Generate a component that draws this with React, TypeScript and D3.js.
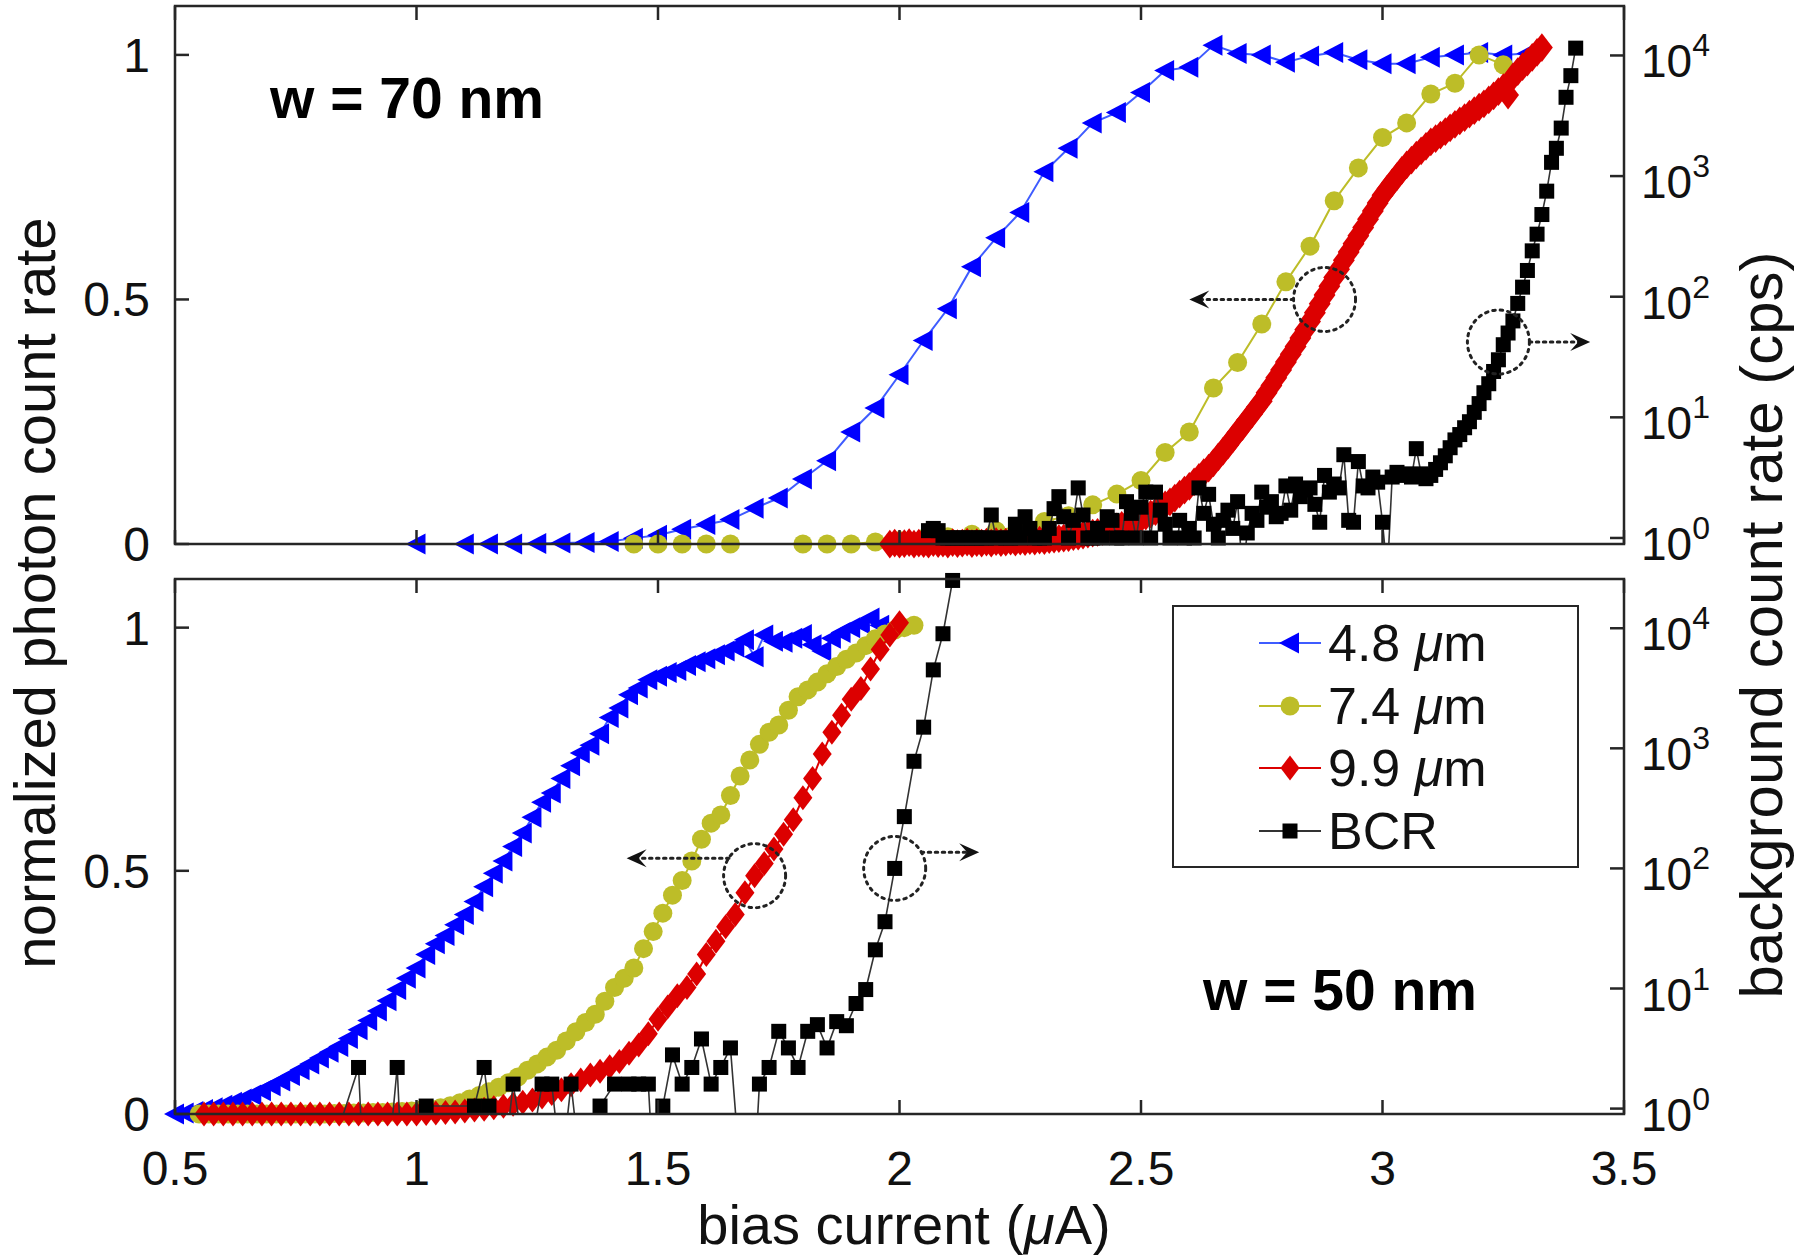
import React from "react";
import * as d3 from "d3";

type P = [number, number];

// ---------- axis ticks ----------
const xTickValues = [0.5, 1, 1.5, 2, 2.5, 3, 3.5];
const xTickLabels = ["0.5", "1", "1.5", "2", "2.5", "3", "3.5"];
const yTickValues = [0, 0.5, 1];
const yTickLabels = ["0", "0.5", "1"];
const logTickExponents = [0, 1, 2, 3, 4];

// ---------- legend ----------
const legendNames = ["4.8", "7.4", "9.9", "BCR"];

// ---------- w = 70 nm (top panel) ----------
const blue70: P[] = [
  [1.0, 0], [1.1, 0], [1.15, 0], [1.2, 0], [1.25, 0.001], [1.3, 0.002], [1.35, 0.003], [1.4, 0.005],
  [1.45, 0.012], [1.5, 0.018], [1.55, 0.03], [1.6, 0.04], [1.65, 0.05], [1.7, 0.073], [1.75, 0.094],
  [1.8, 0.133], [1.85, 0.17], [1.9, 0.229], [1.95, 0.278], [2.0, 0.346], [2.05, 0.416], [2.1, 0.481],
  [2.15, 0.567], [2.2, 0.626], [2.25, 0.678], [2.3, 0.761], [2.35, 0.809], [2.4, 0.861], [2.45, 0.882],
  [2.5, 0.923], [2.55, 0.968], [2.6, 0.975], [2.65, 1.02], [2.7, 1.003], [2.75, 1.0], [2.8, 0.985],
  [2.85, 0.998], [2.9, 1.005], [2.95, 0.99], [3.0, 0.982], [3.05, 0.982], [3.1, 0.995], [3.15, 1.0],
  [3.2, 1.005], [3.25, 1.0], [3.3, 1.003],
];

const yellow70: P[] = [
  [1.45, 0], [1.5, 0], [1.55, 0], [1.6, 0], [1.65, 0], [1.8, 0], [1.85, 0], [1.9, 0], [1.95, 0.004],
  [2.0, 0.007], [2.05, 0.011], [2.1, 0.015], [2.15, 0.02], [2.2, 0.027], [2.25, 0.036], [2.3, 0.046],
  [2.35, 0.058], [2.4, 0.08], [2.45, 0.102], [2.5, 0.13], [2.55, 0.187], [2.6, 0.229], [2.65, 0.319],
  [2.7, 0.371], [2.75, 0.45], [2.8, 0.536], [2.85, 0.609], [2.9, 0.702], [2.95, 0.769], [3.0, 0.831],
  [3.05, 0.861], [3.1, 0.92], [3.15, 0.942], [3.2, 1.0], [3.25, 0.98],
];

const red70: P[] = [
  [1.98, 0.0], [1.99, 0.002], [2.0, 0.0], [2.01, 0.001], [2.02, 0.003], [2.03, 0.0], [2.04, 0.002],
  [2.05, 0.001], [2.06, 0.0], [2.07, 0.003], [2.08, 0.001], [2.09, 0.002], [2.1, 0.0], [2.11, 0.003],
  [2.12, 0.001], [2.13, 0.002], [2.14, 0.004], [2.15, 0.001], [2.16, 0.003], [2.17, 0.002], [2.18, 0.004],
  [2.19, 0.002], [2.2, 0.005], [2.21, 0.003], [2.22, 0.004], [2.23, 0.006], [2.24, 0.004], [2.25, 0.006],
  [2.26, 0.005], [2.27, 0.007], [2.28, 0.006], [2.29, 0.008], [2.3, 0.007], [2.31, 0.009], [2.32, 0.01],
  [2.33, 0.011], [2.34, 0.012], [2.35, 0.013], [2.36, 0.015], [2.37, 0.016], [2.38, 0.018], [2.39, 0.02],
  [2.4, 0.022], [2.41, 0.024], [2.42, 0.026], [2.43, 0.029], [2.44, 0.032], [2.45, 0.035], [2.46, 0.038],
  [2.47, 0.041], [2.48, 0.045], [2.49, 0.048], [2.5, 0.052], [2.51, 0.057], [2.52, 0.061], [2.53, 0.066],
  [2.54, 0.073], [2.55, 0.08], [2.56, 0.086], [2.57, 0.094], [2.58, 0.102], [2.59, 0.11], [2.6, 0.118],
  [2.61, 0.127], [2.62, 0.136], [2.63, 0.146], [2.64, 0.155], [2.65, 0.166], [2.66, 0.178], [2.67, 0.19],
  [2.68, 0.202], [2.69, 0.215], [2.7, 0.228], [2.71, 0.24], [2.72, 0.254], [2.73, 0.266], [2.74, 0.28],
  [2.75, 0.292], [2.76, 0.309], [2.77, 0.324], [2.78, 0.34], [2.79, 0.356], [2.8, 0.372], [2.81, 0.388],
  [2.82, 0.404], [2.83, 0.421], [2.84, 0.438], [2.85, 0.455], [2.86, 0.473], [2.87, 0.491], [2.88, 0.509],
  [2.89, 0.527], [2.9, 0.545], [2.91, 0.562], [2.92, 0.58], [2.93, 0.597], [2.94, 0.614], [2.95, 0.63],
  [2.96, 0.647], [2.97, 0.664], [2.98, 0.681], [2.99, 0.697], [3.0, 0.713], [3.01, 0.726], [3.02, 0.739],
  [3.03, 0.751], [3.04, 0.764], [3.05, 0.775], [3.06, 0.785], [3.07, 0.795], [3.08, 0.804], [3.09, 0.813],
  [3.1, 0.822], [3.11, 0.829], [3.12, 0.836], [3.13, 0.843], [3.14, 0.851], [3.15, 0.858], [3.16, 0.865],
  [3.17, 0.872], [3.18, 0.879], [3.19, 0.886], [3.2, 0.893], [3.21, 0.9], [3.22, 0.908], [3.23, 0.916],
  [3.24, 0.925], [3.25, 0.933], [3.26, 0.918], [3.27, 0.955], [3.28, 0.966], [3.29, 0.976], [3.3, 0.985],
  [3.31, 0.995], [3.32, 1.005], [3.33, 1.015],
];

// background count rate (cps), right log axis
const bcr70: P[] = [
  [2.06, 1.15], [2.07, 1.2], [2.08, 1.15], [2.09, 1], [2.1, 1], [2.11, 1], [2.12, 1], [2.13, 1], [2.14, 1],
  [2.15, 1], [2.16, 1], [2.17, 1], [2.18, 1], [2.19, 1.55], [2.2, 1], [2.21, 0.5], [2.22, 1], [2.23, 1],
  [2.24, 1.3], [2.25, 1], [2.26, 1.5], [2.27, 1.2], [2.28, 1], [2.29, 1], [2.3, 1], [2.31, 1.2], [2.32, 1.75],
  [2.33, 2.2], [2.34, 1.5], [2.35, 1], [2.36, 1.4], [2.37, 2.6], [2.38, 1.55], [2.39, 1], [2.4, 1], [2.41, 1.2],
  [2.42, 1], [2.43, 1.5], [2.44, 1.4], [2.45, 1], [2.46, 1], [2.47, 2], [2.48, 1.6], [2.49, 1], [2.5, 1.8],
  [2.51, 2.4], [2.52, 1], [2.53, 2.4], [2.54, 1.7], [2.55, 1.3], [2.56, 1], [2.57, 0.5], [2.58, 1.4], [2.59, 1],
  [2.6, 1.2], [2.61, 1], [2.62, 2.6], [2.63, 1.6], [2.64, 2.3], [2.65, 1.3], [2.66, 1], [2.67, 1.4], [2.68, 1.7],
  [2.69, 1.2], [2.7, 2], [2.71, 0.5], [2.72, 1.1], [2.73, 1.6], [2.74, 1.4], [2.75, 2.4], [2.76, 1.8], [2.77, 2],
  [2.78, 1.5], [2.79, 1.6], [2.8, 2.7], [2.81, 1.7], [2.82, 2.8], [2.83, 2.2], [2.84, 2.5], [2.85, 2.6],
  [2.86, 1.9], [2.87, 1.35], [2.88, 3.3], [2.89, 2.4], [2.9, 2.8], [2.91, 2.6], [2.92, 4.9], [2.93, 1.4],
  [2.94, 1.35], [2.95, 4.3], [2.96, 2.7], [2.97, 2.6], [2.98, 3.2], [2.99, 2.9], [3.0, 1.35], [3.01, 0.5],
  [3.02, 3.2], [3.03, 3.5], [3.04, 3.3], [3.05, 3.4], [3.06, 3.2], [3.07, 5.5], [3.08, 3.4], [3.09, 3.1],
  [3.1, 3.3], [3.11, 3.7], [3.12, 4.2], [3.13, 4.8], [3.14, 5.6], [3.15, 6.5], [3.16, 7.2], [3.17, 8.2],
  [3.18, 9.2], [3.19, 11], [3.2, 13], [3.21, 16], [3.22, 19], [3.23, 24], [3.24, 30], [3.25, 40], [3.26, 50],
  [3.27, 63], [3.28, 88], [3.29, 120], [3.3, 165], [3.31, 240], [3.32, 330], [3.33, 480], [3.34, 750],
  [3.35, 1300], [3.36, 1700], [3.37, 2500], [3.38, 4500], [3.39, 6800], [3.4, 11500],
];

// ---------- w = 50 nm (bottom panel) ----------
const blue50: P[] = [
  [0.5, 0], [0.52, 0.002], [0.54, 0.005], [0.56, 0.009], [0.58, 0.013], [0.6, 0.018], [0.62, 0.024],
  [0.64, 0.031], [0.66, 0.039], [0.68, 0.048], [0.7, 0.058], [0.72, 0.068], [0.74, 0.079], [0.76, 0.091],
  [0.78, 0.103], [0.8, 0.115], [0.82, 0.127], [0.84, 0.139], [0.86, 0.155], [0.88, 0.173], [0.9, 0.192],
  [0.92, 0.212], [0.94, 0.233], [0.96, 0.256], [0.98, 0.279], [1.0, 0.3], [1.02, 0.328], [1.04, 0.35],
  [1.06, 0.367], [1.08, 0.389], [1.1, 0.41], [1.12, 0.437], [1.14, 0.467], [1.16, 0.495], [1.18, 0.52],
  [1.2, 0.55], [1.22, 0.578], [1.24, 0.61], [1.26, 0.641], [1.28, 0.66], [1.3, 0.69], [1.32, 0.716],
  [1.34, 0.742], [1.36, 0.758], [1.38, 0.782], [1.4, 0.815], [1.42, 0.835], [1.44, 0.862], [1.46, 0.876],
  [1.48, 0.893], [1.5, 0.9], [1.52, 0.908], [1.54, 0.912], [1.56, 0.922], [1.58, 0.93], [1.6, 0.936],
  [1.62, 0.944], [1.64, 0.952], [1.66, 0.96], [1.68, 0.975], [1.7, 0.94], [1.72, 0.985], [1.74, 0.972],
  [1.76, 0.97], [1.78, 0.978], [1.8, 0.986], [1.82, 0.965], [1.84, 0.952], [1.86, 0.978], [1.88, 0.99],
  [1.9, 1.0], [1.92, 1.008], [1.94, 1.02], [1.96, 1.005],
];

const yellow50: P[] = [
  [0.55, 0], [0.57, 0], [0.59, 0], [0.61, 0], [0.63, 0], [0.65, 0], [0.67, 0], [0.69, 0], [0.71, 0],
  [0.73, 0], [0.75, 0], [0.77, 0], [0.79, 0], [0.81, 0], [0.83, 0.001], [0.85, 0.001], [0.87, 0.002],
  [0.89, 0.002], [0.91, 0.003], [0.93, 0.003], [0.95, 0.004], [0.97, 0.005], [0.99, 0.006], [1.01, 0.008],
  [1.03, 0.01], [1.05, 0.013], [1.07, 0.017], [1.09, 0.023], [1.11, 0.031], [1.13, 0.038], [1.15, 0.046],
  [1.17, 0.055], [1.19, 0.064], [1.21, 0.076], [1.23, 0.09], [1.25, 0.103], [1.27, 0.117], [1.29, 0.131],
  [1.31, 0.15], [1.33, 0.169], [1.35, 0.188], [1.37, 0.205], [1.39, 0.232], [1.41, 0.26], [1.43, 0.279],
  [1.45, 0.3], [1.47, 0.34], [1.49, 0.375], [1.51, 0.413], [1.53, 0.45], [1.55, 0.48], [1.57, 0.52],
  [1.59, 0.565], [1.61, 0.598], [1.63, 0.615], [1.65, 0.655], [1.67, 0.695], [1.69, 0.728], [1.71, 0.76],
  [1.73, 0.785], [1.75, 0.8], [1.77, 0.83], [1.79, 0.858], [1.81, 0.872], [1.83, 0.888], [1.85, 0.905],
  [1.87, 0.92], [1.89, 0.935], [1.91, 0.948], [1.93, 0.963], [1.95, 0.977], [1.97, 0.987], [1.99, 0.995],
  [2.01, 1.0], [2.03, 1.005],
];

const red50: P[] = [
  [0.56, 0], [0.58, 0], [0.6, 0], [0.62, 0], [0.64, 0], [0.66, 0], [0.68, 0], [0.7, 0], [0.72, 0], [0.74, 0],
  [0.76, 0], [0.78, 0], [0.8, 0], [0.82, 0], [0.84, 0], [0.86, 0], [0.88, 0], [0.9, 0], [0.92, 0], [0.94, 0],
  [0.96, 0], [0.98, 0], [1.0, 0], [1.02, 0.001], [1.04, 0.002], [1.06, 0.003], [1.08, 0.004], [1.1, 0.006],
  [1.12, 0.008], [1.14, 0.01], [1.16, 0.013], [1.18, 0.016], [1.2, 0.02], [1.22, 0.024], [1.24, 0.029],
  [1.26, 0.035], [1.28, 0.042], [1.3, 0.05], [1.32, 0.06], [1.34, 0.07], [1.36, 0.08], [1.38, 0.088],
  [1.4, 0.097], [1.42, 0.108], [1.44, 0.125], [1.46, 0.142], [1.48, 0.165], [1.5, 0.195], [1.52, 0.22],
  [1.54, 0.243], [1.56, 0.26], [1.58, 0.288], [1.6, 0.328], [1.62, 0.355], [1.64, 0.385], [1.66, 0.41],
  [1.68, 0.455], [1.7, 0.49], [1.72, 0.515], [1.74, 0.545], [1.76, 0.575], [1.78, 0.605], [1.8, 0.65],
  [1.82, 0.69], [1.84, 0.74], [1.86, 0.785], [1.88, 0.82], [1.9, 0.853], [1.92, 0.875], [1.94, 0.915],
  [1.96, 0.955], [1.98, 0.985], [2.0, 1.01],
];

const bcr50: P[] = [
  [0.81, 0.3], [0.88, 2.2], [0.89, 0.3], [0.94, 0.3], [0.96, 2.2], [0.97, 0.3], [1.02, 1.05], [1.12, 1.05],
  [1.14, 2.2], [1.15, 1.05], [1.18, 0.3], [1.2, 1.6], [1.23, 0.3], [1.26, 1.6], [1.28, 1.6], [1.3, 0.3],
  [1.32, 1.6], [1.34, 0.3], [1.38, 1.05], [1.41, 1.6], [1.44, 1.6], [1.46, 1.6], [1.48, 1.6], [1.49, 0.3],
  [1.51, 1.05], [1.53, 2.8], [1.55, 1.6], [1.57, 2.2], [1.59, 3.8], [1.61, 1.6], [1.63, 2.2], [1.65, 3.2],
  [1.67, 0.3], [1.7, 0.3], [1.71, 1.6], [1.73, 2.2], [1.75, 4.4], [1.77, 3.2], [1.79, 2.2], [1.81, 4.4],
  [1.83, 5], [1.85, 3.2], [1.87, 5.3], [1.89, 4.9], [1.91, 7.5], [1.93, 9.8], [1.95, 21], [1.97, 36],
  [1.99, 100], [2.01, 270], [2.03, 780], [2.05, 1500], [2.07, 4500], [2.09, 9000], [2.11, 25000],
];

// annotation circles (data coords on left axis) and arrows [from x, to x, y]
const circles70: P[] = [[2.88, 0.5], [3.24, 0.413]];
const arrows70: [number, number, number][] = [[2.816, 2.6, 0.5], [3.304, 3.43, 0.413]];
const circles50: P[] = [[1.7, 0.49], [1.99, 0.505]];
const arrows50: [number, number, number][] = [[1.647, 1.435, 0.526], [2.045, 2.165, 0.538]];

// ---------- styling ----------
const BLUE = "#0000ff";
const BLUE_LINE = "#3f5cff";
const YELLOW = "#bdbd28";
const RED = "#dc0000";
const BLACK = "#000000";
const FRAME = "#262626";
const FONT = "'Liberation Sans', Arial, Helvetica, sans-serif";

type Shape = "tri" | "circle" | "diamond" | "square";

function Marker({ shape, cx, cy, color, k = 1 }: { shape: Shape; cx: number; cy: number; color: string; k?: number }) {
  if (shape === "circle") return <circle cx={cx} cy={cy} r={9.5 * k} fill={color} />;
  if (shape === "square")
    return <rect x={cx - 7.5 * k} y={cy - 7.5 * k} width={15 * k} height={15 * k} fill={color} />;
  if (shape === "diamond")
    return (
      <path
        d={`M${cx},${cy - 12.5 * k}L${cx + 9.5 * k},${cy}L${cx},${cy + 12.5 * k}L${cx - 9.5 * k},${cy}Z`}
        fill={color}
      />
    );
  return <path d={`M${cx - 11 * k},${cy}L${cx + 9 * k},${cy - 10.5 * k}L${cx + 9 * k},${cy + 10.5 * k}Z`} fill={color} />;
}

const X0 = 175;
const X1 = 1624;

export default function App() {
  const x = d3.scaleLinear().domain([0.5, 3.5]).range([X0, X1]);

  const panels = [
    {
      id: "top",
      y0: 544,
      y1: 6,
      logLo: -0.05,
      series: [
        { data: blue70, color: BLUE, line: BLUE_LINE, lw: 2, shape: "tri" as Shape, log: false, k: 1 },
        { data: yellow70, color: YELLOW, line: YELLOW, lw: 2, shape: "circle" as Shape, log: false, k: 1 },
        { data: red70, color: RED, line: RED, lw: 2, shape: "diamond" as Shape, log: false, k: 1.15 },
        { data: bcr70, color: BLACK, line: "#333", lw: 1.6, shape: "square" as Shape, log: true, k: 1 },
      ],
      circles: circles70,
      arrows: arrows70,
      label: "w = 70 nm",
      labelX: 270,
      labelY: 118,
      xLabels: false,
    },
    {
      id: "bot",
      y0: 1114,
      y1: 579,
      logLo: -0.045,
      series: [
        { data: blue50, color: BLUE, line: BLUE_LINE, lw: 2, shape: "tri" as Shape, log: false, k: 1 },
        { data: yellow50, color: YELLOW, line: YELLOW, lw: 2, shape: "circle" as Shape, log: false, k: 1 },
        { data: red50, color: RED, line: RED, lw: 2, shape: "diamond" as Shape, log: false, k: 1 },
        { data: bcr50, color: BLACK, line: "#333", lw: 1.6, shape: "square" as Shape, log: true, k: 1 },
      ],
      circles: circles50,
      arrows: arrows50,
      label: "w = 50 nm",
      labelX: 1203,
      labelY: 1010,
      xLabels: true,
    },
  ];

  const legendColors = [BLUE, YELLOW, RED, BLACK];
  const legendLines = [BLUE_LINE, YELLOW, RED, "#333"];
  const legendShapes: Shape[] = ["tri", "circle", "diamond", "square"];
  const legendRows = [643, 706, 768, 831];

  return (
    <svg
      width={1800}
      height={1255}
      style={{ position: "absolute", left: 0, top: 0, background: "#fff" }}
      fontFamily={FONT}
    >
      <rect x={0} y={0} width={1800} height={1255} fill="#fff" />
      {panels.map((p) => {
        const y = d3.scaleLinear().domain([0, 1.1]).range([p.y0, p.y1]);
        const ly = d3
          .scaleLog()
          .domain([Math.pow(10, p.logLo), Math.pow(10, 4.41)])
          .range([p.y0, p.y1]);
        const clipId = `clip-${p.id}`;
        const tick = 14;
        return (
          <g key={p.id}>
            <defs>
              <clipPath id={clipId}>
                <rect x={X0} y={p.y1} width={X1 - X0} height={p.y0 - p.y1} />
              </clipPath>
            </defs>
            {p.series.map((s, si) => {
              const yy = (v: number) => (s.log ? ly(v) : y(v));
              const lineGen = d3
                .line<P>()
                .x((d) => x(d[0]))
                .y((d) => yy(d[1]));
              const [dlo, dhi] = s.log ? ly.domain() : [-0.02, 1.12];
              return (
                <g key={si}>
                  <path
                    d={lineGen(s.data) || ""}
                    fill="none"
                    stroke={s.line}
                    strokeWidth={s.lw}
                    clipPath={`url(#${clipId})`}
                  />
                  {s.data
                    .filter((d) => d[1] >= dlo * 0.999 && d[1] <= dhi * 1.001)
                    .map((d, i) => (
                      <Marker key={i} shape={s.shape} cx={x(d[0])} cy={yy(d[1])} color={s.color} k={s.k} />
                    ))}
                </g>
              );
            })}
            {p.circles.map((c, i) => (
              <ellipse
                key={`c${i}`}
                cx={x(c[0])}
                cy={y(c[1])}
                rx={31}
                ry={32}
                fill="none"
                stroke="#222"
                strokeWidth={3}
                strokeDasharray="2.5 5"
                strokeLinecap="round"
              />
            ))}
            {p.arrows.map((a, i) => {
              const xs = x(a[0]);
              const xe = x(a[1]);
              const yv = y(a[2]);
              const dir = xe < xs ? -1 : 1;
              const back = xe - dir * 20;
              return (
                <g key={`a${i}`}>
                  <line
                    x1={xs}
                    y1={yv}
                    x2={xe - dir * 10}
                    y2={yv}
                    stroke="#222"
                    strokeWidth={3}
                    strokeDasharray="2.5 4.5"
                    strokeLinecap="round"
                  />
                  <path
                    d={`M${xe},${yv}L${back},${yv - 9}L${xe - dir * 12},${yv}L${back},${yv + 9}Z`}
                    fill="#111"
                  />
                </g>
              );
            })}
            <rect
              x={X0}
              y={p.y1}
              width={X1 - X0}
              height={p.y0 - p.y1}
              fill="none"
              stroke={FRAME}
              strokeWidth={2.5}
            />
            {xTickValues.map((t, i) => (
              <g key={`xt${i}`}>
                <line x1={x(t)} x2={x(t)} y1={p.y0} y2={p.y0 - tick} stroke={FRAME} strokeWidth={2.5} />
                <line x1={x(t)} x2={x(t)} y1={p.y1} y2={p.y1 + tick} stroke={FRAME} strokeWidth={2.5} />
                {p.xLabels && (
                  <text x={x(t)} y={1185} fontSize={48} textAnchor="middle" fill="#111">
                    {xTickLabels[i]}
                  </text>
                )}
              </g>
            ))}
            {yTickValues.map((t, i) => (
              <g key={`yt${i}`}>
                <line x1={X0} x2={X0 + tick} y1={y(t)} y2={y(t)} stroke={FRAME} strokeWidth={2.5} />
                <text x={150} y={y(t) + 17} fontSize={48} textAnchor="end" fill="#111">
                  {yTickLabels[i]}
                </text>
              </g>
            ))}
            {logTickExponents.map((e) => {
              const ty = ly(Math.pow(10, e));
              return (
                <g key={`lt${e}`}>
                  <line x1={X1} x2={X1 - tick} y1={ty} y2={ty} stroke={FRAME} strokeWidth={2.5} />
                  <text x={1641} y={ty + 22} fontSize={46} fill="#111">
                    10
                    <tspan dy={-21} fontSize={32}>
                      {e}
                    </tspan>
                  </text>
                </g>
              );
            })}
            <text x={p.labelX} y={p.labelY} fontSize={57} fontWeight="bold" fill="#000">
              {p.label}
            </text>
          </g>
        );
      })}

      <rect x={1173} y={606} width={405} height={261} fill="#fff" stroke={FRAME} strokeWidth={2} />
      {legendNames.map((n, i) => (
        <g key={`lg${i}`}>
          <line x1={1259} x2={1321} y1={legendRows[i]} y2={legendRows[i]} stroke={legendLines[i]} strokeWidth={2} />
          <Marker shape={legendShapes[i]} cx={1290} cy={legendRows[i]} color={legendColors[i]} />
          <text x={1328} y={legendRows[i] + 18} fontSize={52} fill="#111">
            {i < 3 ? (
              <>
                {n + " "}
                <tspan fontStyle="italic">μ</tspan>m
              </>
            ) : (
              n
            )}
          </text>
        </g>
      ))}

      <text transform="translate(55,593) rotate(-90)" fontSize={58} textAnchor="middle" fill="#111">
        normalized photon count rate
      </text>
      <text transform="translate(1782,625) rotate(-90)" fontSize={60} textAnchor="middle" fill="#111">
        background count rate (cps)
      </text>
      <text x={904} y={1244} fontSize={56} textAnchor="middle" fill="#111">
        bias current (<tspan fontStyle="italic">μ</tspan>A)
      </text>
    </svg>
  );
}
